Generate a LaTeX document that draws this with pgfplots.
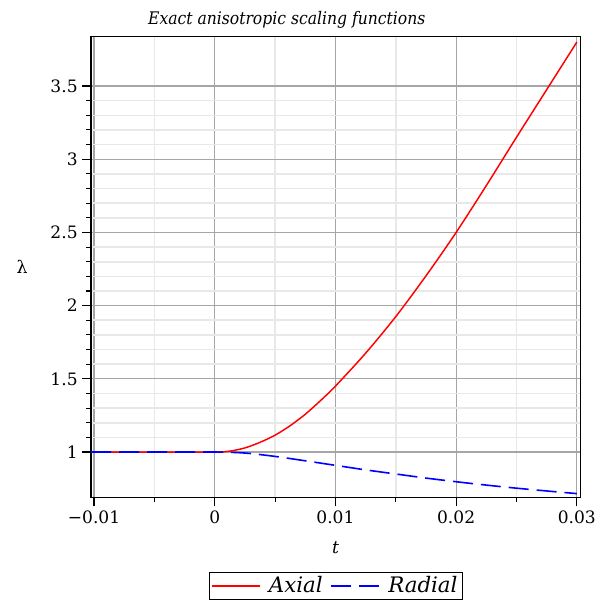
\documentclass[border=0pt]{standalone}
\usepackage{fontspec}
\setmainfont{DejaVu Serif}
\newfontfamily\condfont{DejaVu Serif Condensed}
\usepackage{pgfplots}
\pgfplotsset{compat=1.18}
\definecolor{axred}{RGB}{255,0,0}
\definecolor{radblue}{RGB}{0,0,255}
\begin{document}
\begin{tikzpicture}
\path[use as bounding box] (0,0) rectangle (459.75pt,452.25pt);
\begin{axis}[
  at={(68.25pt,78.98pt)}, anchor=south west,
  scale only axis, width=367pt, height=345.75pt,
  xmin=-0.01025, xmax=0.03029, ymin=0.688, ymax=3.837,
  scaled x ticks=false, scaled y ticks=false,
  xtick={-0.01,0,0.01,0.02,0.03},
  xticklabels={−0.01,0,0.01,0.02,0.03},
  ytick={1,1.5,2,2.5,3,3.5},
  yticklabels={1,1.5,2,2.5,3,3.5},
  minor x tick num=1, minor y tick num=4,
  tick align=outside, tick pos=left,
  major tick length=6.5pt, minor tick length=3.5pt,
  every tick/.style={black, line width=0.8pt},
  ticklabel style={font=\fontsize{12.8}{14}\selectfont},
  grid=both,
  major grid style={gray!70, line width=0.8pt},
  minor grid style={black!9, line width=1.2pt},
  axis line style={black, line width=1pt},
  title={\condfont\itshape Exact anisotropic scaling functions},
  title style={at={(rel axis cs:0.40,1)}, anchor=base, yshift=3pt, font=\fontsize{13}{15}\selectfont},
  xlabel={\itshape t},
  xlabel style={at={(rel axis cs:0.5,0)}, anchor=base, yshift=-42pt, font=\fontsize{13}{14}\selectfont},
  ylabel={λ},
  ylabel style={rotate=-90, at={(rel axis cs:-0.141,0.5)}, anchor=center, font=\fontsize{13}{14}\selectfont},
  legend columns=2,
  legend style={at={(rel axis cs:0.5,-0.1605)}, anchor=north, draw=black,
    font=\fontsize{16}{18}\selectfont\itshape, inner sep=1.5pt,
    /tikz/every odd column/.append style={column sep=4pt},
    /tikz/every even column/.append style={column sep=4pt}},
  legend image code/.code={\draw[#1] (0pt,0pt) -- (36pt,0pt);},
  clip=true,
]
\addplot[color=axred, line width=1.1pt, smooth, forget plot] coordinates {
(-0.01025,1) (-0.005,1) (0,1) (0.00125,1.006) (0.0025,1.028) (0.00375,1.066)
(0.005,1.115) (0.00625,1.18) (0.0075,1.258) (0.00875,1.35) (0.01,1.45)
(0.0125,1.675) (0.015,1.925) (0.0175,2.203) (0.02,2.50) (0.0225,2.82)
(0.025,3.15) (0.0275,3.475) (0.03,3.80)
};
\addplot[color=radblue, line width=1.2pt, smooth, dash pattern=on 15pt off 6pt, forget plot] coordinates {
(-0.01025,1) (-0.005,1) (0,1) (0.0025,0.993) (0.005,0.97) (0.0075,0.94)
(0.01,0.909) (0.0125,0.878) (0.015,0.85) (0.0175,0.822) (0.02,0.797)
(0.0225,0.774) (0.025,0.753) (0.0275,0.734) (0.03,0.716)
};
\addlegendimage{draw=axred, line width=1.3pt}
\addlegendentry{Axial}
\addlegendimage{draw=radblue, line width=1.2pt, dash pattern=on 15pt off 6pt}
\addlegendentry{Radial}
\end{axis}
\end{tikzpicture}
\end{document}
